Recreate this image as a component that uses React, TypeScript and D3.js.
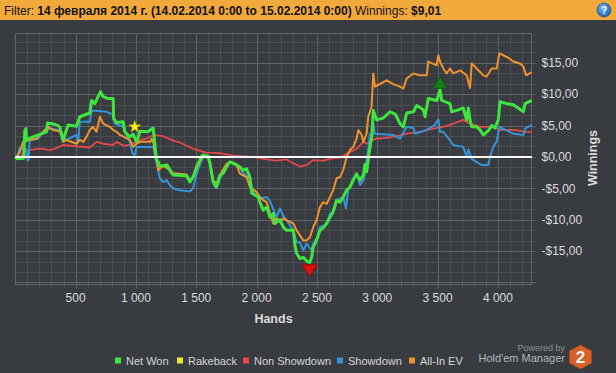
import React from 'react'
import * as d3 from 'd3'

// hands played / cumulative winnings in $
const totalHands = 4280

const netWon: [number, number][] = [
  [0, 0], [15, -0.3], [70, -0.2], [79, 4.2], [88, 4.5], [93, 2.6], [120, 3.0], [176, 3.4], [259, 4.0], [267, 5.4],
  [330, 5.2], [369, 4.8], [396, 2.7], [438, 5.1], [507, 4.9], [535, 6.4], [618, 7.0], [632, 9.0], [659, 8.5], [706, 10.4],
  [728, 9.6], [770, 9.3], [811, 9.3], [815, 6.1], [839, 5.5], [894, 5.6], [908, 4.0], [949, 3.2], [977, 3.6], [1005, 2.4],
  [1020, 3.2], [1032, 4.1], [1100, 4.0], [1143, 4.6], [1157, 2.0], [1171, -0.5], [1185, -0.8], [1198, -1.5], [1260, -1.3], [1295, -2.6],
  [1309, -2.9], [1420, -3.0], [1447, -4.0], [1474, -3.2], [1502, -1.8], [1544, 0.1], [1557, 0.3], [1599, 0.1], [1613, -1.0], [1640, -4.0],
  [1668, -4.8], [1696, -2.9], [1723, -2.6], [1751, -1.6], [1779, -0.8], [1820, -1.1], [1862, -1.6], [1889, -2.1], [1917, -1.9], [1944, -3.2],
  [1960, -5.8], [2013, -6.4], [2027, -7.2], [2055, -8.5], [2083, -8.0], [2110, -9.6], [2138, -9.0], [2152, -10.6], [2193, -10.0], [2221, -11.2],
  [2249, -11.7], [2304, -11.7], [2318, -14.1], [2332, -15.4], [2359, -16.2], [2387, -16.0], [2415, -16.6], [2440, -16.8], [2456, -16.0], [2469, -14.4],
  [2497, -13.3], [2525, -11.7], [2552, -11.3], [2580, -10.6], [2608, -9.6], [2635, -8.7], [2663, -6.9], [2691, -7.2], [2718, -6.4], [2746, -5.3],
  [2774, -4.8], [2801, -3.7], [2829, -2.7], [2857, -3.7], [2884, -2.9], [2898, -1.2], [2912, -2.4], [2925, -0.5], [2939, 1.5], [2955, 3.2],
  [2967, 7.4], [2995, 5.9], [3050, 6.2], [3105, 7.2], [3150, 6.8], [3188, 5.3], [3216, 4.8], [3244, 7.0], [3300, 7.2], [3327, 8.2],
  [3382, 7.5], [3396, 6.4], [3423, 9.3], [3493, 9.0], [3520, 10.7], [3534, 9.0], [3603, 8.5], [3617, 7.2], [3672, 7.5], [3713, 7.8],
  [3741, 5.9], [3755, 7.8], [3769, 5.9], [3783, 4.8], [3824, 4.8], [3852, 4.3], [3879, 3.5], [3921, 4.2], [3949, 5.0], [3976, 4.6],
  [4003, 5.9], [4017, 8.8], [4073, 8.5], [4128, 8.3], [4211, 7.2], [4225, 8.5], [4280, 9.01],
]

const rakeback: [number, number][] = [[0, 0], [4280, 0]]

const nonShowdown: [number, number][] = [
  [0, 0], [10, -0.2], [40, -0.3], [65, 0.8], [120, 1.1], [176, 1.3], [231, 1.3], [286, 1.1], [341, 1.4], [396, 1.9],
  [507, 1.7], [618, 1.5], [673, 2.4], [728, 2.1], [811, 1.9], [839, 2.4], [894, 1.8], [949, 1.9], [1032, 2.7], [1100, 3.0],
  [1143, 3.5], [1226, 3.3], [1309, 2.6], [1364, 2.3], [1474, 1.3], [1585, 0.7], [1696, 0.6], [1806, 0.2], [1972, 0.0], [2083, -0.4],
  [2166, -0.6], [2249, -0.4], [2304, -1.0], [2359, -1.5], [2415, -1.3], [2469, -0.5], [2552, -0.6], [2635, -0.2], [2691, -0.1], [2746, 0.5],
  [2829, 1.3], [2884, 2.4], [2912, 2.1], [2995, 3.0], [3023, 2.9], [3133, 3.2], [3244, 3.7], [3354, 4.0], [3464, 4.5], [3575, 4.9],
  [3713, 5.9], [3769, 5.3], [3852, 4.8], [3962, 4.8], [4017, 4.3], [4128, 4.3], [4239, 4.0], [4280, 3.9],
]

const showdown: [number, number][] = [
  [0, 0], [20, 0.3], [37, 1.4], [93, 1.2], [100, -0.5], [110, -0.5], [120, 2.7], [189, 2.9], [231, 4.0], [272, 4.5],
  [369, 4.3], [396, 3.2], [424, 2.7], [507, 3.5], [515, 2.4], [521, 2.4], [535, 5.6], [618, 5.6], [632, 7.4], [756, 7.2],
  [784, 6.9], [811, 6.9], [825, 5.3], [894, 4.8], [922, 3.5], [949, 2.4], [970, 0.6], [990, 0.3], [1005, 1.6], [1143, 1.6],
  [1157, 0.3], [1171, -1.0], [1198, -3.4], [1226, -4.0], [1254, -3.7], [1281, -4.5], [1309, -5.0], [1364, -5.3], [1447, -5.5], [1474, -5.0],
  [1488, -3.7], [1516, -1.9], [1557, 0.0], [1585, 0.1], [1613, -1.0], [1640, -4.3], [1668, -5.0], [1696, -3.5], [1751, -1.6], [1779, -0.8],
  [1862, -1.7], [1889, -2.6], [1944, -3.5], [1972, -5.6], [2027, -6.6], [2083, -6.4], [2110, -7.0], [2166, -9.6], [2193, -8.2], [2221, -9.4],
  [2249, -10.1], [2304, -11.7], [2332, -13.6], [2359, -13.6], [2387, -14.9], [2415, -13.8], [2456, -14.9], [2469, -13.8], [2497, -13.0], [2525, -11.2],
  [2580, -10.8], [2608, -9.0], [2635, -9.0], [2663, -6.9], [2718, -6.4], [2740, -8.2], [2760, -5.3], [2801, -3.4], [2829, -2.7], [2857, -4.5],
  [2884, -3.7], [2898, -2.7], [2912, -0.5], [2925, 1.1], [2939, 3.6], [2960, 3.7], [2967, 5.3], [2980, 3.7], [3133, 3.5], [3188, 2.9],
  [3244, 4.8], [3300, 4.6], [3313, 3.7], [3410, 4.3], [3478, 5.1], [3506, 6.0], [3520, 4.0], [3547, 4.0], [3575, 3.3], [3630, 1.9],
  [3713, 1.6], [3741, 0.0], [3755, 1.2], [3783, -0.3], [3866, -1.3], [3921, -1.3], [3934, 0.0], [3962, 1.6], [3990, 2.5], [4012, 4.8],
  [4128, 3.7], [4211, 3.5], [4225, 4.5], [4280, 5.1],
]

const allInEV: [number, number][] = [
  [0, 0], [10, -0.2], [37, 0.8], [65, 2.4], [120, 2.7], [176, 2.9], [203, 3.5], [272, 4.8], [314, 4.3], [369, 4.1],
  [396, 2.4], [424, 2.7], [507, 2.1], [535, 2.7], [563, 2.4], [590, 3.2], [618, 4.3], [645, 4.8], [673, 4.0], [701, 6.4],
  [728, 5.3], [784, 4.8], [811, 4.3], [839, 4.0], [867, 3.5], [922, 3.0], [949, 2.7], [977, 1.6], [1005, 2.1], [1032, 2.4],
  [1120, 2.4], [1130, 2.9], [1143, 2.4], [1157, 0.8], [1171, -0.3], [1185, -2.1], [1198, -1.9], [1226, -1.4], [1281, -2.1], [1309, -2.6],
  [1420, -2.8], [1447, -3.7], [1474, -3.2], [1502, -1.3], [1544, -0.3], [1557, 0.3], [1599, 0.1], [1613, -0.8], [1640, -3.7], [1668, -4.2],
  [1696, -2.9], [1751, -1.1], [1779, -0.8], [1834, -1.3], [1862, -2.7], [1917, -3.2], [1944, -4.8], [2000, -5.6], [2027, -6.4], [2055, -6.9],
  [2083, -7.2], [2110, -9.0], [2138, -10.6], [2166, -9.8], [2193, -10.4], [2221, -9.8], [2249, -10.1], [2304, -10.6], [2332, -11.7], [2359, -12.5],
  [2387, -13.3], [2415, -13.3], [2442, -12.8], [2469, -11.2], [2497, -10.1], [2525, -8.0], [2552, -7.2], [2580, -7.5], [2608, -6.4], [2635, -5.3],
  [2663, -3.4], [2691, -3.2], [2718, -2.1], [2746, 0.0], [2774, 1.1], [2801, 1.6], [2829, 2.9], [2843, 4.3], [2871, 3.5], [2884, 2.4],
  [2912, 3.7], [2925, 6.4], [2953, 8.0], [2967, 13.3], [2981, 11.2], [3030, 11.7], [3078, 12.2], [3133, 11.6], [3188, 11.2], [3216, 10.9],
  [3244, 12.5], [3299, 13.3], [3354, 13.0], [3410, 13.0], [3423, 15.2], [3492, 14.6], [3506, 16.2], [3520, 15.2], [3547, 14.1], [3575, 13.3],
  [3603, 14.1], [3630, 13.3], [3686, 13.8], [3741, 13.0], [3755, 12.0], [3769, 11.0], [3783, 14.9], [3824, 14.1], [3879, 13.0], [3907, 12.8],
  [3948, 14.1], [3990, 14.1], [4012, 16.5], [4086, 15.8], [4128, 15.2], [4183, 14.9], [4211, 14.4], [4233, 13.0], [4280, 13.5],
]

const starMark: [number, number] = [990, 4.8]

const xTicks = [500, 1000, 1500, 2000, 2500, 3000, 3500, 4000]
const yTicks = [-15, -10, -5, 0, 5, 10, 15]
const legendLabels = ['Net Won', 'Rakeback', 'Non Showdown', 'Showdown', 'All-In EV']

const colors = ['#3ee53e', '#f2ea2e', '#e5484b', '#3594d6', '#f0922e']
const legendX = [115, 177, 243, 337, 409]

const money = (v: number) => (v < 0 ? '-' : '') + '$' + Math.abs(v).toFixed(2).replace('.', ',')
const handsFmt = (v: number) => d3.format(',')(v).replace(',', '\u00a0')

const App = () => {
  const left = 15.3
  const right = 531.7
  const top = 33.3
  const bottom = 284.3

  const x = d3.scaleLinear().domain([0, totalHands]).range([left, right])
  const y = d3.scaleLinear().domain([-20.3, 19.7]).range([bottom, top])

  const line = d3.line<[number, number]>()
    .x(d => x(d[0]))
    .y(d => y(d[1]))

  const minorY = d3.range(-12, 12).map(k => k * 5 / 3).filter(v => v >= -20.3 && v <= 19.7)
  const minorX = d3.range(100, totalHands, 100)

  const series = [
    { data: rakeback, color: colors[1], width: 2 },
    { data: nonShowdown, color: colors[2], width: 1.8 },
    { data: showdown, color: colors[3], width: 2 },
    { data: allInEV, color: colors[4], width: 2 },
    { data: netWon, color: colors[0], width: 3 },
  ]

  const maxPt = netWon.reduce((a, b) => (b[1] > a[1] ? b : a))
  const minPt = netWon.reduce((a, b) => (b[1] < a[1] ? b : a))

  const axisColor = '#dcdcdc'
  const font = "'Liberation Sans', Arial, sans-serif"
  const snap = (v: number) => Math.round(v) + 0.5

  const star = d3.symbol().type(d3.symbolStar).size(42)()

  const hx = 580.5
  const hy = 357
  const hex = [[hx, hy - 12], [hx + 11, hy - 6], [hx + 11, hy + 6], [hx, hy + 12], [hx - 11, hy + 6], [hx - 11, hy - 6]]
    .map(p => p.join(',')).join(' ')

  return (
    <svg width={616} height={373} style={{ position: 'absolute', left: 0, top: 0, display: 'block' }} fontFamily={font}>
      <defs>
        <radialGradient id="qbg" cx="0.4" cy="0.35" r="0.7">
          <stop offset="0" stopColor="#6fb4f0" />
          <stop offset="1" stopColor="#1b5ea6" />
        </radialGradient>
      </defs>
      <rect x={0} y={0} width={616} height={373} fill="#383b3f" />

      {/* header */}
      <rect x={0} y={0} width={616} height={20} fill="#f2a93c" />
      <text x={4} y={14.5} fontSize={12} fill="#111">
        <tspan>Filter: </tspan>
        <tspan fontWeight="bold">14 февраля 2014 г. (14.02.2014 0:00 to 15.02.2014 0:00)</tspan>
        <tspan> Winnings: </tspan>
        <tspan fontWeight="bold">$9,01</tspan>
      </text>
      <circle cx={604} cy={10} r={7} fill="url(#qbg)" stroke="#2a5f95" strokeWidth={0.8} />
      <text x={604} y={14} fontSize={10} fontWeight="bold" fill="#fff" textAnchor="middle">?</text>

      {/* grid */}
      <g>
        {minorX.map(h => (
          <line key={'vx' + h} x1={snap(x(h))} x2={snap(x(h))} y1={top} y2={bottom + 4}
            stroke={h % 500 === 0 ? '#5e6165' : '#4a4d51'} strokeWidth={1} />
        ))}
        {minorY.map(v => (
          <line key={'hy' + v} x1={left} x2={right + 4} y1={snap(y(v))} y2={snap(y(v))}
            stroke={Math.abs(v % 5) < 0.01 ? '#5e6165' : '#4a4d51'} strokeWidth={1} />
        ))}
        <rect x={snap(left)} y={snap(top)} width={Math.round(right - left)} height={Math.round(bottom - top)}
          fill="none" stroke="#606367" strokeWidth={1} />
      </g>

      {/* series */}
      {series.map((s, i) => (
        <path key={i} d={line(s.data) || ''} fill="none" stroke={s.color} strokeWidth={s.width}
          strokeLinejoin="round" strokeLinecap="butt" />
      ))}
      <line x1={left} x2={right} y1={y(0)} y2={y(0)} stroke="#ffffff" strokeWidth={2} />

      {/* markers */}
      <path d={star || ''} transform={`translate(${x(starMark[0])},${y(starMark[1])})`} fill="#f7f21e" stroke="#d8c800" strokeWidth={0.6} />
      <path d={`M${x(maxPt[0]) - 7},${y(maxPt[1]) - 1.5} L${x(maxPt[0]) + 7},${y(maxPt[1]) - 1.5} L${x(maxPt[0])},${y(maxPt[1]) - 13.5} Z`}
        fill="#17801a" stroke="#0c5a0e" strokeWidth={1} />
      <path d={`M${x(minPt[0]) - 7.5},${y(minPt[1]) + 2.5} L${x(minPt[0]) + 7.5},${y(minPt[1]) + 2.5} L${x(minPt[0])},${y(minPt[1]) + 14} Z`}
        fill="#e40d0d" stroke="#9e0808" strokeWidth={1} />

      {/* y axis */}
      <g fontSize={12} fill={axisColor}>
        {yTicks.map(v => (
          <text key={v} x={541.5} y={y(v) + 4.3}>{money(v)}</text>
        ))}
      </g>
      <text transform={`translate(597,158) rotate(-90)`} textAnchor="middle" fontSize={12.5} fontWeight="bold" fill={axisColor}>Winnings</text>

      {/* x axis */}
      <g fontSize={12} fill={axisColor} textAnchor="middle">
        {xTicks.map(h => (
          <text key={h} x={x(h)} y={302}>{handsFmt(h)}</text>
        ))}
      </g>
      <text x={(left + right) / 2} y={322.5} textAnchor="middle" fontSize={12.5} fontWeight="bold" fill={axisColor}>Hands</text>

      {/* legend */}
      <g fontSize={11} fill="#d6d6d6">
        {legendLabels.map((l, i) => (
          <g key={l}>
            <rect x={legendX[i]} y={357.5} width={6} height={6} fill={colors[i]} />
            <text x={legendX[i] + 11} y={364.8}>{l}</text>
          </g>
        ))}
      </g>

      {/* logo */}
      <text x={565} y={351} textAnchor="end" fontSize={9} fill="#8e9195">Powered by</text>
      <text x={565} y={362} textAnchor="end" fontSize={11} fill="#b3b6b9">Hold'em Manager</text>
      <polygon points={hex} fill="#d6622a" stroke="#a84a1c" strokeWidth={1} />
      <text x={hx} y={hy + 6} textAnchor="middle" fontSize={17} fontWeight="bold" fill="#f4f4f4">2</text>
    </svg>
  )
}

export default App
